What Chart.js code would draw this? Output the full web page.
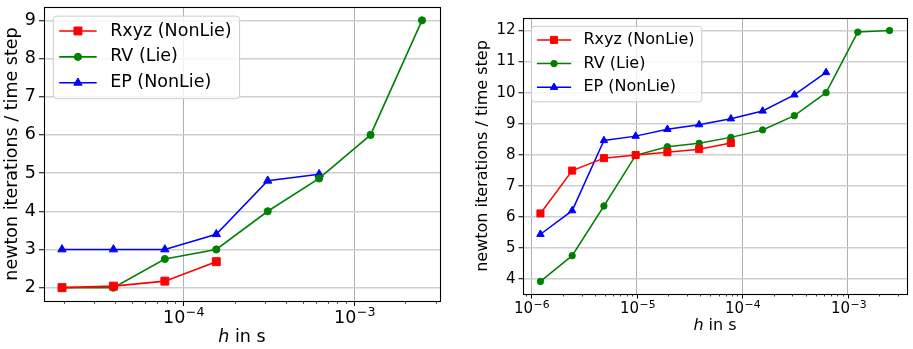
<!DOCTYPE html>
<html>
<head>
<meta charset="utf-8">
<script src="https://cdn.jsdelivr.net/npm/chart.js@4.4.1/dist/chart.umd.min.js"></script>
<style>
  body { margin: 0; background: #fff; }
  canvas { position: absolute; top: 0; }
  #left { left: 0; }
  #right { left: 456px; }
</style>
</head>
<body>
<canvas id="left" width="456" height="349"></canvas>
<canvas id="right" width="457" height="349"></canvas>
<script>
// ---- data: time step h (s) vs. newton iterations per time step ----
const labels = ["Rxyz (NonLie)", "RV (Lie)", "EP (NonLie)"];
const colors = ["#ff0000", "#008000", "#0000ff"];
const markers = ["rect", "circle", "triangle"];

// left plot
const hLeft = [1.953125e-5, 3.90625e-5, 7.8125e-5, 1.5625e-4, 3.125e-4, 6.25e-4, 1.25e-3, 2.5e-3];
const rxyzLeft = [2.0, 2.04, 2.17, 2.68];
const rvLeft = [2.0, 2.0, 2.75, 3.0, 4.0, 4.86, 6.0, 9.0];
const epLeft = [3.0, 3.0, 3.0, 3.4, 4.8, 4.97];
const yTicksLeft = [2, 3, 4, 5, 6, 7, 8, 9];

// right plot
const hRight = [1.220703125e-6, 2.44140625e-6, 4.8828125e-6, 9.765625e-6, 1.953125e-5, 3.90625e-5,
  7.8125e-5, 1.5625e-4, 3.125e-4, 6.25e-4, 1.25e-3, 2.5e-3];
const rxyzRight = [6.11, 7.49, 7.89, 7.99, 8.08, 8.18, 8.38];
const rvRight = [3.92, 4.75, 6.35, 7.98, 8.26, 8.37, 8.56, 8.8, 9.26, 10.0, 11.95, 12.0];
const epRight = [5.44, 6.2, 8.46, 8.6, 8.82, 8.97, 9.16, 9.41, 9.93, 10.65];
const yTicksRight = [4, 5, 6, 7, 8, 9, 10, 11, 12];

const yTitle = "newton iterations / time step";

const FONT = "'DejaVu Sans', sans-serif";
Chart.defaults.font.family = FONT;
Chart.defaults.color = "#000";

// 1..9 x 10^e ticks between min and max, 1 x 10^e is major
function logTicks(min, max) {
  const out = [];
  for (let e = Math.floor(Math.log10(min)); e <= Math.ceil(Math.log10(max)); e++) {
    for (let m = 1; m < 10; m++) {
      const v = m * Math.pow(10, e);
      if (v >= min && v <= max) out.push({ value: v, major: m === 1, exp: e });
    }
  }
  return out;
}

// 5% margins like matplotlib autoscale
function logRange(arr) {
  const a = Math.log10(Math.min(...arr)), b = Math.log10(Math.max(...arr)), d = (b - a) * 0.05;
  return [Math.pow(10, a - d), Math.pow(10, b + d)];
}
function linRange(arrs) {
  const all = [].concat(...arrs);
  const a = Math.min(...all), b = Math.max(...all), d = (b - a) * 0.05;
  return [a - d, b + d];
}

// axes box, x tick marks (major / minor) and 10^n labels
const frame = {
  id: "frame",
  afterDatasetsDraw(chart, args, o) {
    const { ctx, chartArea: a } = chart;
    const xs = chart.scales.x;
    const fs = o.size, sfs = fs * 0.72;
    ctx.save();
    ctx.strokeStyle = "#000";
    ctx.fillStyle = "#000";
    ctx.textBaseline = "alphabetic";
    ctx.textAlign = "left";
    xs.ticks.forEach(t => {
      const px = Math.round(xs.getPixelForValue(t.value)) + 0.5;
      ctx.lineWidth = t.major ? 1 : 0.8;
      ctx.beginPath();
      ctx.moveTo(px, a.bottom);
      ctx.lineTo(px, a.bottom + (t.major ? o.major : o.minor));
      ctx.stroke();
      if (!t.major) return;
      const sup = String(t.exp).replace("-", "\u2212");
      ctx.font = fs + "px " + FONT;
      const w1 = ctx.measureText("10").width;
      ctx.font = sfs + "px " + FONT;
      const w2 = ctx.measureText(sup).width;
      const x0 = px - (w1 + w2) / 2, base = a.bottom + o.base;
      ctx.font = fs + "px " + FONT;
      ctx.fillText("10", x0, base);
      ctx.font = sfs + "px " + FONT;
      ctx.fillText(sup, x0 + w1 + 0.5, base - 0.36 * fs);
    });
    ctx.lineWidth = 1.1;
    ctx.strokeRect(Math.round(a.left) + 0.5, Math.round(a.top) + 0.5,
      Math.round(a.right - a.left), Math.round(a.bottom - a.top));
    ctx.restore();
  }
};

// legend in the upper left corner, line + marker samples
const boxLegend = {
  id: "boxLegend",
  afterDatasetsDraw(chart, args, o) {
    const { ctx, chartArea: a } = chart;
    const fs = o.size;
    const sets = chart.data.datasets;
    ctx.save();
    ctx.font = fs + "px " + FONT;
    const tw = Math.max(...sets.map(d => ctx.measureText(d.label).width));
    const x = a.left + 0.53 * fs, y = a.top + 0.52 * fs;
    const w = 3.25 * fs + tw + 0.45 * fs, h = 4.72 * fs;
    ctx.beginPath();
    ctx.roundRect(x, y, w, h, 0.2 * fs);
    ctx.fillStyle = "rgba(255,255,255,0.8)";
    ctx.fill();
    ctx.strokeStyle = "#cccccc";
    ctx.lineWidth = 1;
    ctx.stroke();
    sets.forEach((d, i) => {
      const cy = y + 0.85 * fs + i * 1.48 * fs;
      ctx.strokeStyle = d.borderColor;
      ctx.lineWidth = d.borderWidth;
      ctx.beginPath();
      ctx.moveTo(x + 0.34 * fs, cy);
      ctx.lineTo(x + 2.48 * fs, cy);
      ctx.stroke();
      ctx.fillStyle = d.pointBackgroundColor;
      ctx.lineWidth = 1;
      Chart.helpers.drawPoint(ctx, { pointStyle: d.pointStyle, radius: d.pointRadius, rotation: 0, borderWidth: 1 },
        x + 1.41 * fs, cy);
      ctx.fillStyle = "#000";
      ctx.textBaseline = "middle";
      ctx.textAlign = "left";
      ctx.fillText(d.label, x + 3.25 * fs, cy);
    });
    ctx.restore();
  }
};

// x title with italic h
const hTitle = {
  id: "hTitle",
  afterDraw(chart, args, o) {
    const { ctx, chartArea: a } = chart;
    const it = "italic " + o.size + "px " + FONT, rm = o.size + "px " + FONT;
    ctx.save();
    ctx.font = it;
    const w1 = ctx.measureText("h").width;
    ctx.font = rm;
    const w2 = ctx.measureText(" in s").width;
    const x = (a.left + a.right) / 2 - (w1 + w2) / 2;
    ctx.textBaseline = "middle";
    ctx.textAlign = "left";
    ctx.fillStyle = "#000";
    ctx.font = it;
    ctx.fillText("h", x, o.y);
    ctx.font = rm;
    ctx.fillText(" in s", x + w1, o.y);
    ctx.restore();
  }
};

function makeChart(id, c) {
  const series = [c.rxyz, c.rv, c.ep];
  const [xMin, xMax] = logRange(c.h);
  const [yMin, yMax] = linRange(series);

  const datasets = series.map((vals, i) => ({
    label: labels[i],
    data: vals.map((v, j) => ({ x: c.h[j], y: v })),
    borderColor: colors[i],
    backgroundColor: colors[i],
    pointBackgroundColor: colors[i],
    pointBorderColor: colors[i],
    pointStyle: markers[i],
    pointRadius: c.radius[i],
    pointBorderWidth: 1,
    borderWidth: c.lineWidth,
    tension: 0
  }));

  return new Chart(document.getElementById(id), {
    type: "line",
    data: { datasets },
    plugins: [frame, boxLegend, hTitle],
    options: {
      responsive: false,
      animation: false,
      devicePixelRatio: 1,
      layout: { padding: c.padding },
      plugins: {
        legend: { display: false },
        tooltip: { enabled: false },
        frame: { major: c.tickLen, minor: c.tickLen * 0.55, size: c.xTickSize, base: c.xLabelBase },
        boxLegend: { size: c.legendSize },
        hTitle: { size: c.titleSize, y: c.xTitleY }
      },
      scales: {
        x: {
          type: "logarithmic",
          min: xMin,
          max: xMax,
          afterBuildTicks: s => { s.ticks = logTicks(xMin, xMax); },
          afterFit: s => { s.height = c.xHeight; s.paddingLeft = 0; s.paddingRight = 0; },
          border: { display: false },
          grid: {
            drawTicks: false,
            color: ctx => (ctx.tick && ctx.tick.major ? "#b0b0b0" : "rgba(0,0,0,0)"),
            lineWidth: 1
          },
          ticks: { display: false, autoSkip: false }
        },
        y: {
          type: "linear",
          min: yMin,
          max: yMax,
          afterBuildTicks: s => { s.ticks = c.yTicks.map(v => ({ value: v })); },
          afterFit: s => { s.width = c.yWidth; s.paddingTop = 0; s.paddingBottom = 0; },
          border: { display: false },
          grid: { color: "#cfcfcf", lineWidth: 1.5, tickColor: "#000", tickLength: c.tickLen, tickWidth: 1 },
          ticks: { padding: 3, font: { size: c.tickSize }, callback: v => String(v) },
          title: {
            display: true,
            text: yTitle,
            font: { size: c.titleSize },
            padding: { top: c.yTitlePad, bottom: 0 }
          }
        }
      }
    }
  });
}

makeChart("left", {
  h: hLeft, rxyz: rxyzLeft, rv: rvLeft, ep: epLeft, yTicks: yTicksLeft,
  padding: { top: 7, right: 16, bottom: 0, left: 0 },
  yWidth: 44, xHeight: 48, yTitlePad: 1.5, xTitleY: 337, xLabelBase: 21.7,
  tickSize: 17.5, xTickSize: 17.5, titleSize: 17.5, legendSize: 17.5, tickLen: 5,
  radius: [5.6, 3.6, 4.8], lineWidth: 1.6
});

makeChart("right", {
  h: hRight, rxyz: rxyzRight, rv: rvRight, ep: epRight, yTicks: yTicksRight,
  padding: { top: 18, right: 1, bottom: 0, left: 0 },
  yWidth: 67, xHeight: 55, yTitlePad: 17.7, xTitleY: 326, xLabelBase: 19.3,
  tickSize: 15, xTickSize: 15, titleSize: 16, legendSize: 16, tickLen: 4.5,
  radius: [5, 3.2, 4.3], lineWidth: 1.5
});
</script>
</body>
</html>
